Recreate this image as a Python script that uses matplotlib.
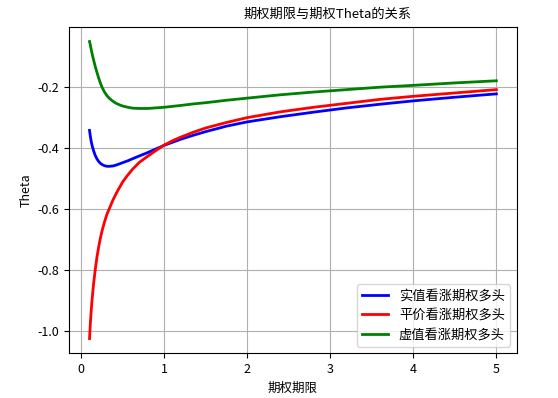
import matplotlib
matplotlib.use('Agg')
import matplotlib.pyplot as plt

plt.rcParams['font.family'] = ['Noto Sans CJK SC', 'DejaVu Sans']
plt.rcParams['axes.unicode_minus'] = False

# option maturity (years)
T = [0.1, 0.11, 0.12, 0.13, 0.15, 0.17, 0.19, 0.21, 0.23, 0.25, 0.28, 0.31,
     0.34, 0.38, 0.42, 0.46, 0.5, 0.56, 0.62, 0.7, 0.8, 0.9, 1.0, 1.1, 1.2,
     1.35, 1.5, 1.75, 2.0, 2.4, 2.8, 3.2, 3.6, 4.0, 4.5, 5.0]

# theta
theta_itm = [-0.342, -0.362, -0.378, -0.391, -0.410, -0.425, -0.436, -0.444,
             -0.450, -0.454, -0.458, -0.460, -0.460, -0.459, -0.456, -0.452,
             -0.448, -0.442, -0.435, -0.426, -0.415, -0.403, -0.391, -0.381,
             -0.371, -0.358, -0.346, -0.328, -0.314, -0.297, -0.282, -0.268,
             -0.256, -0.245, -0.233, -0.222]
theta_atm = [-1.026, -0.975, -0.935, -0.900, -0.843, -0.797, -0.757, -0.725,
             -0.697, -0.673, -0.643, -0.617, -0.598, -0.572, -0.550, -0.530,
             -0.511, -0.489, -0.469, -0.447, -0.427, -0.408, -0.390, -0.376,
             -0.364, -0.348, -0.334, -0.316, -0.300, -0.281, -0.266, -0.253,
             -0.240, -0.230, -0.219, -0.208]
theta_otm = [-0.050, -0.062, -0.076, -0.089, -0.112, -0.133, -0.152, -0.170,
             -0.186, -0.200, -0.216, -0.228, -0.237, -0.246, -0.253, -0.258,
             -0.262, -0.266, -0.269, -0.270, -0.270, -0.268, -0.266, -0.263,
             -0.260, -0.255, -0.251, -0.243, -0.236, -0.225, -0.216, -0.208,
             -0.200, -0.194, -0.186, -0.179]

labels = ['实值看涨期权多头', '平价看涨期权多头', '虚值看涨期权多头']

fig = plt.figure(figsize=(5.58, 3.98), dpi=100)
ax = fig.add_axes([0.124, 0.112, 0.802, 0.821])

ax.plot(T, theta_itm, color='blue', linewidth=2, label=labels[0])
ax.plot(T, theta_atm, color='red', linewidth=2, label=labels[1])
ax.plot(T, theta_otm, color='green', linewidth=2, label=labels[2])

ax.set_xlabel('期权期限', fontsize=9)
ax.set_ylabel('Theta', fontsize=9)
ax.set_title('期权期限与期权Theta的关系', fontsize=9.5, x=0.577)
ax.tick_params(labelsize=9)
ax.legend(loc='lower right', fontsize=9.5)
ax.grid(True)

fig.savefig('out.png', dpi=100)
